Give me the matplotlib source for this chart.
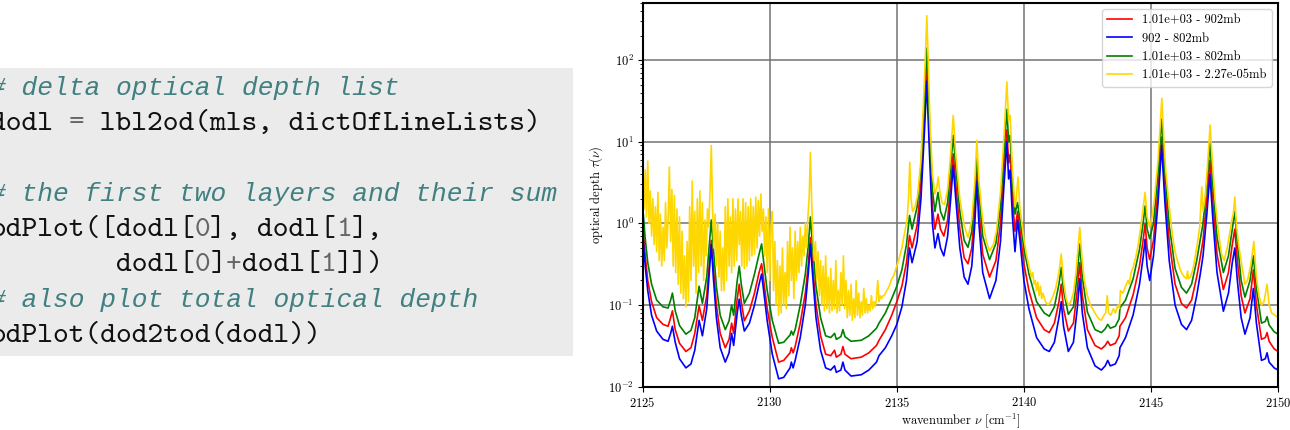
import matplotlib
matplotlib.use("Agg")
import matplotlib.pyplot as plt
from matplotlib.patches import Rectangle

plt.rcParams['font.family'] = ['cmr10']
plt.rcParams['mathtext.fontset'] = 'cm'
plt.rcParams['axes.formatter.use_mathtext'] = True

# code listing shown left of the plot: (text, kind) tokens per line
code_lines = [
    [("# delta optical depth list", "comment")],
    [("dodl ", "name"), ("=", "op"), (" lbl2od(mls, dictOfLineLists)", "name")],
    [],
    [("# the first two layers and their sum", "comment")],
    [("odPlot([dodl[", "name"), ("0", "num"), ("], dodl[", "name"), ("1", "num"), ("],", "name")],
    [("        dodl[", "name"), ("0", "num"), ("]", "name"), ("+", "op"),
     ("dodl[", "name"), ("1", "num"), ("]])", "name")],
    [("# also plot total optical depth", "comment")],
    [("odPlot(dod2tod(dodl))", "name")],
]

# wavenumber grid shared by the two layers and their sum
wn = [2125.00, 2125.10, 2125.20, 2125.35, 2125.55, 2125.80, 2126.00, 2126.10, 2126.17, 2126.28,
      2126.45, 2126.70, 2126.90, 2127.05, 2127.22, 2127.35, 2127.52, 2127.62, 2127.70, 2127.78,
      2127.90, 2128.05, 2128.25, 2128.40, 2128.50, 2128.58, 2128.72, 2128.80, 2128.88, 2129.00,
      2129.20, 2129.40, 2129.58, 2129.68, 2129.76, 2129.90, 2130.10, 2130.35, 2130.55, 2130.80,
      2130.85, 2130.92, 2131.00, 2131.20, 2131.40, 2131.52, 2131.60, 2131.68, 2131.82, 2132.00,
      2132.20, 2132.40, 2132.55, 2132.62, 2132.80, 2132.88, 2132.96, 2133.20, 2133.60, 2133.90,
      2134.20, 2134.30, 2134.55, 2134.80, 2135.00, 2135.20, 2135.38, 2135.50, 2135.60, 2135.80,
      2135.95, 2136.08, 2136.18, 2136.28, 2136.40, 2136.50, 2136.62, 2136.72, 2136.85, 2137.00,
      2137.12, 2137.22, 2137.32, 2137.48, 2137.65, 2137.80, 2137.95, 2138.07, 2138.15, 2138.23,
      2138.38, 2138.65, 2138.90, 2139.08, 2139.22, 2139.33, 2139.40, 2139.46, 2139.55, 2139.65,
      2139.75, 2139.85, 2140.00, 2140.20, 2140.50, 2140.80, 2141.00, 2141.20, 2141.38, 2141.47,
      2141.56, 2141.75, 2141.95, 2142.10, 2142.20, 2142.30, 2142.50, 2142.80, 2143.05, 2143.20,
      2143.30, 2143.40, 2143.60, 2143.75, 2143.78, 2144.00, 2144.30, 2144.55, 2144.70, 2144.77,
      2144.85, 2144.95, 2145.10, 2145.28, 2145.42, 2145.55, 2145.72, 2145.95, 2146.20, 2146.40,
      2146.60, 2146.80, 2146.95, 2147.05, 2147.20, 2147.32, 2147.43, 2147.60, 2147.85, 2148.05,
      2148.20, 2148.30, 2148.40, 2148.55, 2148.70, 2148.90, 2149.03, 2149.15, 2149.35, 2149.50,
      2149.57, 2149.65, 2149.85, 2150.00]

# layer 1013 - 902 mb
tau_red = [1.0, 0.40, 0.20, 0.11, 0.07, 0.058, 0.055, 0.07, 0.085, 0.05,
           0.034, 0.027, 0.03, 0.045, 0.098, 0.065, 0.13, 0.32, 0.62, 0.30,
           0.1, 0.045, 0.030, 0.038, 0.06, 0.045, 0.12, 0.18, 0.11, 0.064,
           0.085, 0.14, 0.25, 0.32, 0.2, 0.09, 0.04, 0.02, 0.021, 0.026,
           0.03, 0.026, 0.031, 0.06, 0.14, 0.32, 0.67, 0.33, 0.1, 0.042,
           0.025, 0.024, 0.028, 0.023, 0.025, 0.031, 0.025, 0.022, 0.023, 0.026,
           0.032, 0.037, 0.05, 0.075, 0.11, 0.17, 0.33, 0.71, 0.5, 0.95,
           3.0, 18, 85, 12, 1.6, 0.85, 1.3, 0.85, 0.7, 1.1,
           3.0, 7.1, 3.0, 0.85, 0.38, 0.32, 0.5, 1.5, 4.5, 1.5,
           0.42, 0.22, 0.35, 1.0, 4.5, 14, 5.5, 7.0, 2.0, 0.8,
           1.4, 0.8, 0.32, 0.15, 0.07, 0.05, 0.046, 0.06, 0.11, 0.18,
           0.09, 0.048, 0.06, 0.15, 0.33, 0.13, 0.05, 0.032, 0.029, 0.032,
           0.036, 0.032, 0.034, 0.042, 0.055, 0.07, 0.134, 0.3, 0.65, 0.99,
           0.5, 0.36, 0.62, 2.6, 11.4, 2.6, 0.6, 0.18, 0.105, 0.092,
           0.115, 0.22, 0.4, 0.62, 2.0, 5.9, 1.9, 0.42, 0.155, 0.25,
           0.55, 0.85, 0.35, 0.13, 0.08, 0.12, 0.27, 0.1, 0.038, 0.04,
           0.046, 0.036, 0.029, 0.027]

# layer 902 - 802 mb
tau_blue = [0.75, 0.30, 0.15, 0.075, 0.048, 0.038, 0.036, 0.045, 0.055, 0.035,
            0.022, 0.017, 0.019, 0.028, 0.065, 0.042, 0.09, 0.25, 0.55, 0.22,
            0.07, 0.03, 0.02, 0.026, 0.045, 0.032, 0.08, 0.118, 0.075, 0.048,
            0.06, 0.1, 0.18, 0.24, 0.15, 0.064, 0.025, 0.0125, 0.013, 0.017,
            0.02, 0.017, 0.021, 0.04, 0.1, 0.25, 0.56, 0.25, 0.07, 0.028,
            0.017, 0.016, 0.018, 0.015, 0.016, 0.02, 0.016, 0.0135, 0.014, 0.016,
            0.02, 0.024, 0.03, 0.042, 0.058, 0.095, 0.2, 0.5, 0.33, 0.6,
            2.0, 12, 55, 8, 1.0, 0.5, 0.75, 0.5, 0.4, 0.7,
            2.0, 5.1, 2.0, 0.5, 0.22, 0.18, 0.3, 1.0, 3.3, 1.0,
            0.25, 0.12, 0.2, 0.6, 3.0, 10, 3.5, 4.5, 1.2, 0.45,
            1.1, 0.6, 0.2, 0.09, 0.04, 0.029, 0.027, 0.035, 0.07, 0.11,
            0.055, 0.027, 0.035, 0.09, 0.21, 0.08, 0.03, 0.018, 0.016, 0.018,
            0.021, 0.018, 0.019, 0.024, 0.03, 0.04, 0.076, 0.18, 0.4, 0.64,
            0.3, 0.2, 0.4, 1.8, 9.0, 1.8, 0.35, 0.1, 0.058, 0.05,
            0.065, 0.13, 0.25, 0.4, 1.3, 4.0, 1.2, 0.25, 0.084, 0.14,
            0.33, 0.5, 0.2, 0.07, 0.044, 0.07, 0.16, 0.06, 0.021, 0.022,
            0.026, 0.02, 0.017, 0.016]

# sum of both layers, 1013 - 802 mb
tau_green = [1.6, 0.65, 0.33, 0.18, 0.115, 0.095, 0.092, 0.115, 0.14, 0.085,
             0.056, 0.044, 0.049, 0.07, 0.17, 0.105, 0.22, 0.55, 1.1, 0.5,
             0.17, 0.075, 0.05, 0.064, 0.1, 0.075, 0.2, 0.3, 0.18, 0.105,
             0.14, 0.24, 0.42, 0.56, 0.34, 0.15, 0.065, 0.034, 0.035, 0.043,
             0.048, 0.043, 0.05, 0.1, 0.24, 0.55, 1.2, 0.56, 0.17, 0.07,
             0.042, 0.04, 0.045, 0.038, 0.041, 0.05, 0.041, 0.036, 0.037, 0.042,
             0.052, 0.06, 0.08, 0.12, 0.17, 0.27, 0.55, 1.25, 0.85, 1.6,
             5.0, 30, 140, 20, 2.6, 1.4, 2.4, 1.4, 1.1, 1.8,
             5.0, 12, 5.0, 1.4, 0.62, 0.51, 0.8, 2.4, 6.5, 2.4,
             0.7, 0.36, 0.57, 1.6, 7.5, 25, 10, 12, 3.3, 1.3,
             1.8, 1.1, 0.5, 0.24, 0.11, 0.08, 0.073, 0.095, 0.18, 0.29,
             0.15, 0.077, 0.095, 0.24, 0.56, 0.22, 0.082, 0.05, 0.046, 0.051,
             0.058, 0.052, 0.055, 0.068, 0.092, 0.115, 0.21, 0.48, 1.05, 1.64,
             0.85, 0.65, 1.0, 4.2, 19, 4.3, 0.95, 0.28, 0.165, 0.14,
             0.18, 0.35, 0.65, 1.0, 3.2, 9.5, 3.1, 0.68, 0.25, 0.4,
             0.85, 1.4, 0.58, 0.2, 0.125, 0.2, 0.4, 0.16, 0.06, 0.063,
             0.072, 0.057, 0.047, 0.044]

# total optical depth 1013 - 2.27e-05 mb
wn_total = [2125.00, 2125.05, 2125.10, 2125.15, 2125.20, 2125.25, 2125.30, 2125.35, 2125.40, 2125.45,
            2125.50, 2125.55, 2125.60, 2125.65, 2125.70, 2125.75, 2125.80, 2125.85, 2125.90, 2125.95,
            2126.00, 2126.05, 2126.10, 2126.15, 2126.20, 2126.25, 2126.30, 2126.35, 2126.40, 2126.45,
            2126.50, 2126.55, 2126.60, 2126.65, 2126.70, 2126.75, 2126.80, 2126.85, 2126.90, 2126.95,
            2127.00, 2127.05, 2127.10, 2127.15, 2127.20, 2127.25, 2127.30, 2127.35, 2127.40, 2127.45,
            2127.50, 2127.55, 2127.60, 2127.65, 2127.70, 2127.75, 2127.80, 2127.85, 2127.90, 2127.95,
            2128.00, 2128.05, 2128.10, 2128.15, 2128.20, 2128.25, 2128.30, 2128.35, 2128.40, 2128.45,
            2128.50, 2128.55, 2128.60, 2128.65, 2128.70, 2128.75, 2128.80, 2128.85, 2128.90, 2128.95,
            2129.00, 2129.05, 2129.10, 2129.15, 2129.20, 2129.25, 2129.30, 2129.35, 2129.40, 2129.45,
            2129.50, 2129.55, 2129.60, 2129.65, 2129.70, 2129.75, 2129.80, 2129.85, 2129.90, 2129.95,
            2130.00, 2130.05, 2130.10, 2130.15, 2130.20, 2130.25, 2130.30, 2130.35, 2130.40, 2130.45,
            2130.50, 2130.55, 2130.60, 2130.65, 2130.70, 2130.75, 2130.80, 2130.85, 2130.90, 2130.95,
            2131.00, 2131.05, 2131.10, 2131.15, 2131.20, 2131.25, 2131.30, 2131.35, 2131.40, 2131.45,
            2131.50, 2131.55, 2131.60, 2131.65, 2131.70, 2131.75, 2131.80, 2131.85, 2131.90, 2131.95,
            2132.00, 2132.05, 2132.10, 2132.15, 2132.20, 2132.25, 2132.30, 2132.35, 2132.40, 2132.45,
            2132.50, 2132.55, 2132.60, 2132.65, 2132.70, 2132.75, 2132.80, 2132.85, 2132.90, 2132.95,
            2133.00, 2133.05, 2133.10, 2133.15, 2133.20, 2133.25, 2133.30, 2133.35, 2133.40, 2133.45,
            2133.50, 2133.55, 2133.60, 2133.65, 2133.70, 2133.75, 2133.80, 2133.85, 2133.90, 2133.95,
            2134.00, 2134.05, 2134.10, 2134.15, 2134.20, 2134.25, 2134.30, 2134.35, 2134.40, 2134.45,
            2134.50, 2134.55, 2134.60, 2134.65, 2134.70, 2134.75, 2134.80, 2134.85, 2134.90, 2134.95,
            2135.00, 2135.10, 2135.20, 2135.30, 2135.40, 2135.46, 2135.51, 2135.56, 2135.62, 2135.72,
            2135.82, 2135.95, 2136.05, 2136.12, 2136.18, 2136.24, 2136.30, 2136.40, 2136.50, 2136.58,
            2136.63, 2136.68, 2136.78, 2136.88, 2137.00, 2137.12, 2137.22, 2137.32, 2137.48, 2137.65,
            2137.80, 2137.95, 2138.07, 2138.15, 2138.23, 2138.38, 2138.52, 2138.65, 2138.80, 2138.92,
            2139.08, 2139.22, 2139.33, 2139.40, 2139.46, 2139.55, 2139.65, 2139.70, 2139.77, 2139.84,
            2140.00, 2140.10, 2140.20, 2140.30, 2140.35, 2140.40, 2140.45, 2140.50, 2140.55, 2140.60,
            2140.65, 2140.70, 2140.75, 2140.85, 2140.95, 2141.05, 2141.15, 2141.25, 2141.38, 2141.47,
            2141.56, 2141.66, 2141.75, 2141.85, 2141.95, 2142.05, 2142.12, 2142.20, 2142.28, 2142.38,
            2142.50, 2142.62, 2142.75, 2142.85, 2142.95, 2143.05, 2143.15, 2143.22, 2143.28, 2143.33,
            2143.42, 2143.52, 2143.60, 2143.70, 2143.76, 2143.80, 2143.90, 2144.00, 2144.10, 2144.15,
            2144.22, 2144.30, 2144.40, 2144.50, 2144.60, 2144.70, 2144.77, 2144.85, 2144.95, 2145.05,
            2145.15, 2145.28, 2145.36, 2145.43, 2145.50, 2145.58, 2145.72, 2145.85, 2145.95, 2146.08,
            2146.20, 2146.32, 2146.40, 2146.44, 2146.48, 2146.55, 2146.65, 2146.80, 2146.92, 2147.00,
            2147.05, 2147.14, 2147.24, 2147.33, 2147.42, 2147.52, 2147.65, 2147.78, 2147.88, 2148.00,
            2148.10, 2148.18, 2148.24, 2148.30, 2148.36, 2148.45, 2148.58, 2148.70, 2148.80, 2148.92,
            2149.05, 2149.15, 2149.25, 2149.35, 2149.45, 2149.57, 2149.65, 2149.75, 2149.88, 2150.00]

tau_total = [3.0, 1.5, 4.5, 1.2, 5.8, 1.0, 2.5, 0.7, 2.0, 0.55,
             1.6, 0.45, 2.4, 0.35, 1.3, 0.3, 0.9, 0.35, 1.8, 0.5,
             1.1, 4.9, 0.6, 2.6, 0.3, 2.2, 0.25, 1.5, 0.18, 1.2,
             0.14, 0.8, 0.12, 0.4, 0.095, 0.6, 0.11, 1.6, 0.2, 3.3,
             0.3, 1.4, 0.14, 2.0, 0.25, 2.5, 0.3, 1.8, 0.2, 1.1,
             0.4, 1.5, 0.9, 2.5, 9.0, 1.5, 0.5, 1.3, 0.3, 1.0,
             0.22, 0.8, 0.15, 0.5, 0.15, 1.6, 0.2, 2.0, 0.3, 1.2,
             0.25, 2.0, 0.3, 1.5, 0.35, 2.0, 0.55, 1.4, 0.3, 2.0,
             0.28, 1.8, 0.3, 1.6, 0.35, 2.0, 0.4, 1.6, 0.42, 2.1,
             0.5, 1.9, 0.7, 2.3, 0.8, 1.5, 0.4, 1.2, 0.25, 1.5,
             0.2, 0.9, 1.4, 0.15, 0.6, 0.1, 0.35, 0.075, 0.3, 0.08,
             0.5, 0.1, 0.25, 0.09, 0.6, 0.13, 0.9, 0.2, 0.5, 0.12,
             0.8, 0.2, 0.6, 0.25, 0.9, 0.3, 0.7, 0.4, 1.0, 0.5,
             1.2, 2.0, 7.4, 1.8, 0.7, 0.35, 0.6, 0.2, 0.45, 0.13,
             0.35, 0.1, 0.3, 0.085, 0.4, 0.09, 0.22, 0.08, 0.28, 0.085,
             0.2, 0.09, 0.35, 0.08, 0.15, 0.085, 0.25, 0.1, 0.4, 0.09,
             0.2, 0.07, 0.15, 0.075, 0.18, 0.065, 0.12, 0.07, 0.2, 0.075,
             0.14, 0.07, 0.11, 0.075, 0.16, 0.08, 0.12, 0.08, 0.1, 0.085,
             0.13, 0.09, 0.11, 0.095, 0.12, 0.2, 0.11, 0.13, 0.12, 0.13,
             0.13, 0.14, 0.15, 0.16, 0.17, 0.19, 0.21, 0.22, 0.24, 0.27,
             0.3, 0.38, 0.5, 0.75, 1.1, 2.0, 5.6, 2.0, 1.4, 1.6,
             2.2, 6.0, 30, 100, 350, 90, 20, 4.0, 2.3, 2.8,
             3.7, 2.6, 1.8, 1.7, 2.6, 7.0, 21, 7.0, 2.0, 0.95,
             0.67, 1.1, 3.3, 10.4, 3.3, 1.1, 0.6, 0.46, 0.55, 0.8,
             2.4, 12, 54, 18, 21, 4.5, 1.6, 2.0, 3.7, 1.6,
             0.65, 0.42, 0.3, 0.22, 0.25, 0.18, 0.2, 0.15, 0.19, 0.13,
             0.17, 0.12, 0.14, 0.11, 0.1, 0.11, 0.13, 0.16, 0.25, 0.42,
             0.2, 0.12, 0.1, 0.11, 0.14, 0.25, 0.45, 0.89, 0.4, 0.2,
             0.13, 0.1, 0.085, 0.075, 0.068, 0.065, 0.075, 0.08, 0.13, 0.08,
             0.075, 0.09, 0.08, 0.1, 0.09, 0.15, 0.14, 0.17, 0.2, 0.18,
             0.25, 0.29, 0.38, 0.55, 0.9, 1.6, 2.4, 1.2, 0.9, 1.2,
             2.2, 6.0, 15, 34, 12, 4.5, 1.6, 0.7, 0.45, 0.32,
             0.25, 0.22, 0.21, 0.26, 0.21, 0.22, 0.27, 0.5, 0.9, 2.8,
             1.4, 2.2, 6.0, 16, 5.5, 2.0, 0.8, 0.42, 0.35, 0.5,
             0.75, 1.1, 1.3, 2.1, 1.0, 0.55, 0.3, 0.18, 0.2, 0.3,
             0.6, 0.22, 0.13, 0.1, 0.11, 0.18, 0.1, 0.08, 0.075, 0.07]

labels = ["1.01e+03 - 902mb", "902 - 802mb", "1.01e+03 - 802mb", "1.01e+03 - 2.27e-05mb"]
colors = ["red", "blue", "green", "gold"]

fig = plt.figure(figsize=(12.9, 4.3), dpi=100)

# left panel: the code block, drawn in pixel units
ax_code = fig.add_axes([0, 0, 1, 1])
ax_code.set_xlim(0, 1290)
ax_code.set_ylim(430, 0)
ax_code.axis('off')
ax_code.add_patch(Rectangle((0, 68), 572.7, 288, facecolor='#ebebeb', edgecolor='none'))

styles = {
    "name": dict(family='cmtt10', color='#111111'),
    "op": dict(family='cmtt10', color='#666666'),
    "num": dict(family='cmtt10', color='#666666'),
    "comment": dict(family='Liberation Mono', style='italic', color='#408080'),
}
pitch = 15.75
x0 = -10
for i, line in enumerate(code_lines):
    y = 95 + 35.25 * i
    col = 0
    for txt, kind in line:
        st = styles[kind]
        size = 18.9 if kind == "comment" else 21.6
        ax_code.text(x0 + col * pitch, y, txt, fontsize=size, va='baseline', ha='left', **st)
        col += len(txt)

# right panel: optical depth spectra
ax = fig.add_axes([0.4982, 0.1007, 0.4925, 0.8923])
for tau, lab, c in zip([tau_red, tau_blue, tau_green], labels[:3], colors[:3]):
    ax.plot(wn, tau, color=c, lw=1.2, label=lab)
ax.plot(wn_total, tau_total, color=colors[3], lw=1.2, label=labels[3])

ax.set_yscale('log')
ax.set_xlim(2125, 2150)
ax.set_ylim(1e-2, 5e2)
ax.set_xticks([2125, 2130, 2135, 2140, 2145, 2150])
ax.grid(True, which='major', color='0.45', lw=1.1)
ax.set_xlabel(r'wavenumber $\nu$ [cm$^{-1}$]', fontsize=9, labelpad=1)
ax.set_ylabel(r'optical depth $\tau(\nu)$', fontsize=9, labelpad=2)
ax.tick_params(labelsize=9, pad=3)
for sp in ax.spines.values():
    sp.set_linewidth(1.5)
ax.legend(loc='upper right', fontsize=9, framealpha=0.8, edgecolor='0.8')

fig.savefig('out.png', dpi=100)
